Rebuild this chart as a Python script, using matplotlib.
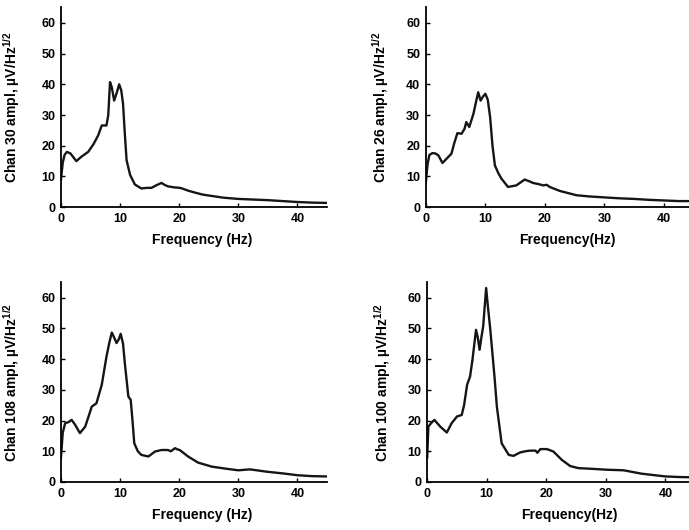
import numpy as np
import matplotlib
matplotlib.use('Agg')
import matplotlib.pyplot as plt

plt.rcParams['font.family'] = 'Liberation Sans'
plt.rcParams['font.weight'] = 'bold'
plt.rcParams['mathtext.fontset'] = 'custom'
plt.rcParams['mathtext.rm'] = 'Liberation Sans:bold'
plt.rcParams['mathtext.bf'] = 'Liberation Sans:bold'

# amplitude spectra (Hz, uV/Hz^1/2)
f30 = [0, 0.3, 0.6, 1.0, 1.6, 2.6, 3.5, 4.6, 5.5, 6.3, 6.9, 7.7, 8.0, 8.3, 8.6, 9.0, 9.4, 9.85, 10.2, 10.5,
       10.8, 11.1, 11.7, 12.5, 13.6, 14.5, 15.3, 16.2, 17.0, 17.6, 18.1, 19.0, 20.1, 20.5, 21.5, 22.6, 24.0,
       25.4, 27.5, 30, 32.5, 35, 37.5, 40, 42.5, 45]
a30 = [9, 14.5, 17, 18, 17.5, 15.0, 16.5, 18, 20.5, 23.4, 26.6, 26.6, 30, 40.7, 39, 34.7, 37, 40, 38, 33.7,
       24, 15.3, 10.5, 7.4, 6.1, 6.3, 6.3, 7.2, 7.9, 7.2, 6.8, 6.5, 6.3, 6.1, 5.4, 4.8, 4.1, 3.7, 3.1, 2.7,
       2.5, 2.3, 2.0, 1.7, 1.5, 1.4]

f26 = [0, 0.3, 0.6, 1.1, 1.6, 2.1, 2.8, 3.5, 4.3, 4.8, 5.3, 6.0, 6.5, 6.8, 7.3, 8.0, 8.4, 8.8, 9.2, 9.6,
       10.0, 10.4, 10.8, 11.2, 11.6, 12.2, 12.7, 13.8, 15.2, 16.0, 16.6, 17.3, 18.0, 19.0, 19.7, 20.3, 20.8,
       22.5, 25.3, 27.5, 30, 32.5, 35, 37.5, 40, 42.5, 45]
a26 = [8, 14, 17, 17.6, 17.5, 16.9, 14.4, 15.8, 17.4, 21, 24.1, 23.9, 25.5, 27.7, 26.1, 30.4, 34, 37.4, 34.7, 36,
       36.9, 35, 29.3, 20, 13.6, 11, 9.3, 6.6, 7.1, 8.2, 9.0, 8.5, 7.9, 7.5, 7.1, 7.3, 6.6,
       5.3, 3.9, 3.5, 3.2, 2.9, 2.7, 2.4, 2.2, 2.0, 2.0]

f108 = [0, 0.3, 0.7, 1.3, 1.8, 2.4, 3.2, 4.1, 4.7, 5.2, 6.0, 6.9, 7.7, 8.2, 8.6, 9.0, 9.4, 9.8, 10.1, 10.5,
        10.8, 11.4, 11.8, 12.1, 12.4, 13.0, 13.6, 14.8, 15.9, 17.0, 18.1, 18.6, 19.3, 19.7, 20.1, 21.5, 23.2,
        25.5, 28, 30, 32, 35, 37.5, 40, 42.5, 45]
a108 = [8, 16, 19.1, 19.5, 20.2, 18.6, 15.9, 18.0, 21.5, 24.5, 25.6, 31.6, 40.8, 45.5, 48.6, 47, 45.2, 46.5, 48.2, 45,
        38.7, 27.8, 26.7, 20, 12.6, 10, 8.8, 8.3, 9.9, 10.4, 10.4, 10.0, 11.0, 10.6, 10.4, 8.3, 6.3,
        5.0, 4.3, 3.8, 4.1, 3.3, 2.8, 2.2, 1.9, 1.8]

f100 = [0, 0.2, 0.6, 1.2, 2.2, 3.3, 4.1, 5.0, 5.8, 6.2, 6.7, 7.2, 7.6, 8.2, 8.5, 8.8, 9.1, 9.4, 9.9, 10.2,
        10.6, 11.3, 11.7, 12.5, 13.7, 14.5, 15.6, 16.5, 17.3, 18.2, 18.5, 19.0, 20.1, 21.2, 22.6, 24.0, 25.4,
        27.5, 30, 33, 36, 40, 42.5, 45]
a100 = [8, 18, 19, 20.2, 18.0, 16.1, 19.1, 21.3, 21.8, 25, 31.6, 34.3, 39.7, 49.5, 47, 43.0, 47, 50.6, 63.1, 57,
        49.5, 34.3, 24.5, 12.6, 8.8, 8.5, 9.6, 10.0, 10.2, 10.2, 9.5, 10.7, 10.7, 9.9, 7.2, 5.2, 4.5,
        4.3, 4.0, 3.8, 2.7, 1.8, 1.6, 1.5]

chans = ['30', '26', '108', '100']
freqs = [f30, f26, f108, f100]
ampls = [a30, a26, a108, a100]
xlabels = ['Frequency (Hz)', 'Frequency(Hz)', 'Frequency (Hz)', 'Frequency(Hz)']

# axes boxes in figure fractions [left, bottom, width, height]
boxes = [[0.0885, 0.609, 0.386, 0.377],
         [0.618, 0.609, 0.389, 0.377],
         [0.0885, 0.0906, 0.386, 0.377],
         [0.620, 0.0906, 0.389, 0.377]]
ylab_x = [-0.147, -0.128, -0.147, -0.128]

fig = plt.figure(figsize=(6.89, 5.3), dpi=100)

for i in range(4):
    ax = fig.add_axes(boxes[i])
    ax.plot(freqs[i], ampls[i], color='#151515', lw=1.7)
    ax.set_xlim(0, 45)
    ax.set_ylim(0, 65)
    ax.set_xticks([0, 10, 20, 30, 40])
    ax.set_yticks([0, 10, 20, 30, 40, 50, 60])
    ax.spines['top'].set_visible(False)
    ax.spines['right'].set_visible(False)
    ax.spines['left'].set_linewidth(1.3)
    ax.spines['bottom'].set_linewidth(1.3)
    ax.tick_params(direction='in', length=3, width=1, labelsize=9, pad=4)
    ax.set_ylabel('Chan ' + chans[i] + r' ampl, µV/Hz$^{1/2}$', fontsize=10, fontweight='bold')
    ax.yaxis.set_label_coords(ylab_x[i], 0.5)
    ax.set_xlabel(xlabels[i], fontsize=10, fontweight='bold')
    ax.xaxis.set_label_coords(0.53, -0.13)

plt.savefig('out.png', dpi=100)
